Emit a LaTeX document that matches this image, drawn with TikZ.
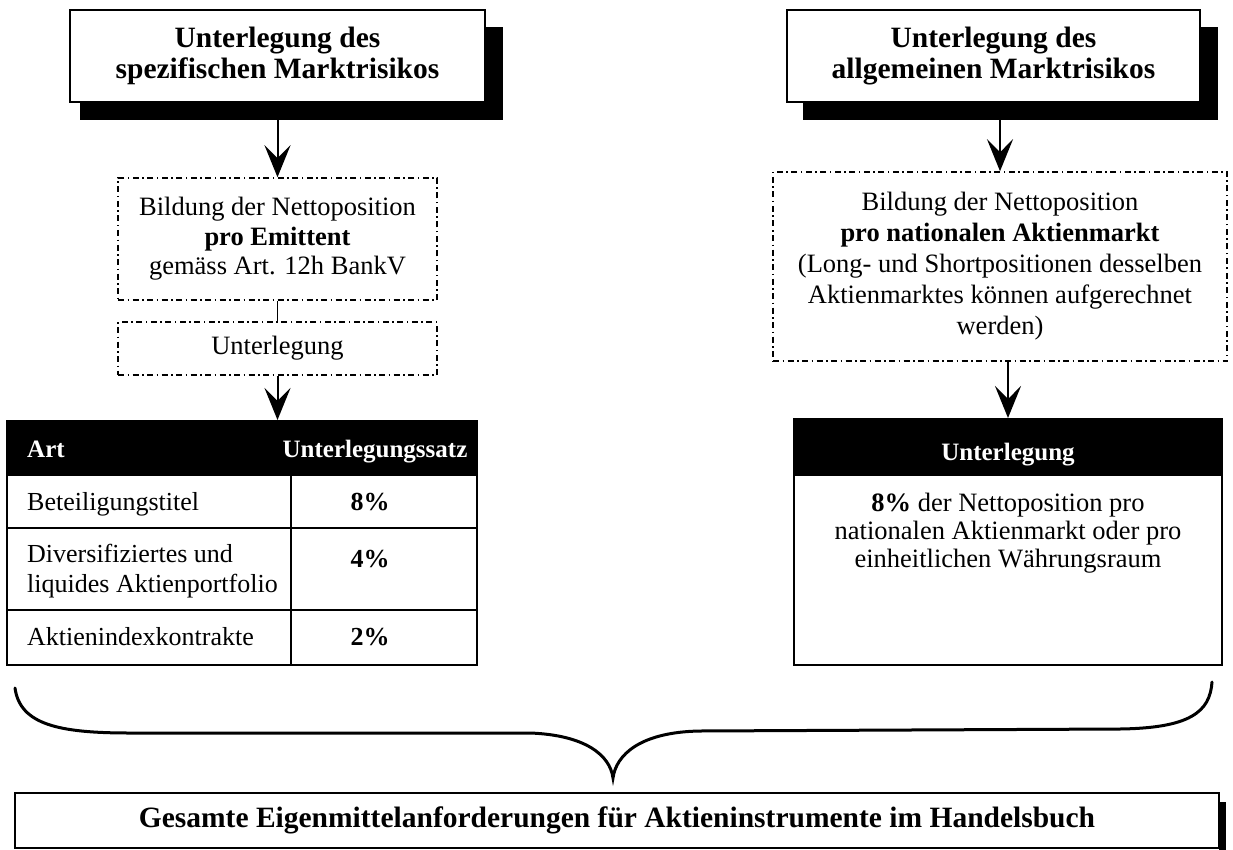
\documentclass[tikz,border=0pt]{standalone}
\usepackage{fontspec}
\setmainfont{Liberation Serif}
\usetikzlibrary{arrows.meta}
\begin{document}
\begin{tikzpicture}[x=1pt,y=-1pt,
  txt/.style={font=\fontsize{26.5}{29.5}\selectfont, align=center, inner sep=0pt},
  celltxt/.style={font=\fontsize{26}{30}\selectfont, inner sep=0pt},
  cellb/.style={font=\fontsize{26}{30}\selectfont\bfseries, inner sep=0pt},
  headb/.style={font=\fontsize{25}{29}\selectfont\bfseries, inner sep=0pt, text=white},
  ttl/.style={font=\fontsize{29.5}{31.5}\selectfont\bfseries, align=center, inner sep=0pt},
  ddbox/.style={draw, line width=1.5pt, dash pattern=on 6pt off 3.5pt on 1.5pt off 3.5pt},
  solidbox/.style={draw, line width=2pt, fill=white},
  arr/.style={line width=2pt, -{Stealth[length=32pt,width=26pt,inset=13pt]}},
  tabline/.style={line width=2pt},
]
\useasboundingbox (0,0) rectangle (1233,850);

% top boxes with shadows
\fill (80,27) rectangle (503,120);
\node[solidbox, ttl, minimum width=415pt, minimum height=92pt] (t1) at (277.5,56)
  {Unterlegung des\\spezifischen Marktrisikos};
\fill (803,27) rectangle (1218,120);
\node[solidbox, ttl, minimum width=413pt, minimum height=92pt] (t2) at (993.5,56)
  {Unterlegung des\\allgemeinen Marktrisikos};

% left dash-dot boxes
\node[ddbox, txt, minimum width=319pt, minimum height=122pt] (b1) at (277.5,239)
  {Bildung der Nettoposition\\\textbf{pro Emittent}\\gemäss Art. 12h BankV};
\node[ddbox, txt, minimum width=319pt, minimum height=53pt] (b2) at (277.5,348.5)
  {Unterlegung};
\draw[line width=1.5pt] (b1.south) -- (b2.north);

% right dash-dot box
\node[ddbox, font=\fontsize{26.5}{31}\selectfont, align=center, inner sep=0pt,
      minimum width=454pt, minimum height=189pt] (b3) at (1000,266.5)
  {Bildung der Nettoposition\\\textbf{pro nationalen Aktienmarkt}\\(Long- und Shortpositionen desselben\\Aktienmarktes können aufgerechnet\\werden)};

% table
\node[draw, line width=2pt, minimum width=470pt, minimum height=244pt, inner sep=0pt] (tab) at (242,543) {};
\fill (7,421) rectangle (477,476);
\draw[tabline] (7,528) -- (477,528);
\draw[tabline] (7,610) -- (477,610);
\draw[tabline] (291,476) -- (291,665);
\node[headb, anchor=base west] (hart) at (27,457) {Art};
\node[headb, anchor=base] (hsatz) at (375,457) {Unterlegungssatz};
\node[celltxt, anchor=base west] (r1) at (27,510) {Beteiligungstitel};
\node[celltxt, anchor=base west] (r2a) at (27,562) {Diversifiziertes und};
\node[celltxt, anchor=base west] (r2b) at (27,592) {liquides Aktienportfolio};
\node[celltxt, anchor=base west] (r3) at (27,645) {Aktienindexkontrakte};
\node[cellb, anchor=base] (p1) at (370,510) {8\%};
\node[cellb, anchor=base] (p2) at (370,567) {4\%};
\node[cellb, anchor=base] (p3) at (370,645) {2\%};

% right result box
\node[draw, line width=2pt, minimum width=428pt, minimum height=246pt, inner sep=0pt] (rbox) at (1008,542) {};
\fill (794,419) rectangle (1222,476);
\node[headb, anchor=base] (rhead) at (1008,460) {Unterlegung};
\node[font=\fontsize{26.5}{28}\selectfont, align=center, inner sep=0pt, anchor=north] (rbody) at (1008,493)
  {\textbf{8\%} der Nettoposition pro\\nationalen Aktienmarkt oder pro\\einheitlichen Währungsraum};

% arrows
\draw[arr] (t1.south) -- (b1.north);
\draw[arr] (b2.south) -- (b2.south |- tab.north);
\draw[arr] (t2.south -| b3.north) -- (b3.north);
\draw[arr] (b3.south -| rbox.north) -- (rbox.north);

% brace
\coordinate (cusp) at (613,778);
\draw[line width=3pt, line cap=round]
  (15,688) .. controls (20,725) and (60,733) .. (130,733) -- (530,733)
  .. controls (585,735) and (610,755) .. (cusp)
  .. controls (616,755) and (640,732) .. (700,731) -- (1120,729)
  .. controls (1190,728) and (1210,712) .. (1212,682);

% bottom box
\fill (1219,802) rectangle (1226,850);
\node[solidbox, ttl, minimum width=1204pt, minimum height=55pt] (total) at (617,820.5)
  {Gesamte Eigenmittelanforderungen für Aktieninstrumente im Handelsbuch};
\end{tikzpicture}
\end{document}
